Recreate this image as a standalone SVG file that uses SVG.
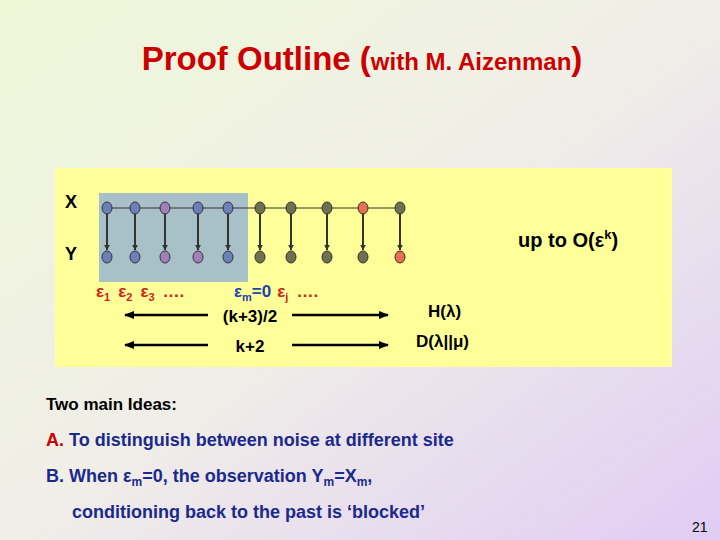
<svg xmlns="http://www.w3.org/2000/svg" width="720" height="540" viewBox="0 0 720 540">
<defs>
<linearGradient id="bg" x1="0" y1="0" x2="1" y2="1"><stop offset="0" stop-color="#eef8d8"/><stop offset="0.5" stop-color="#f0eee8"/><stop offset="1" stop-color="#e0ccf4"/></linearGradient>
<marker id="ah" viewBox="0 0 10 10" refX="9" refY="5" markerWidth="4" markerHeight="4" orient="auto-start-reverse"><path d="M0,1 L10,5 L0,9 z" fill="#000"/></marker>
<marker id="ah2" viewBox="0 0 10 10" refX="9" refY="5" markerWidth="3" markerHeight="3" orient="auto"><path d="M0,0 L10,5 L0,10 z" fill="#333"/></marker>
<style>
.t{font-family:"Liberation Sans",Arial,sans-serif;font-weight:bold}
.n{stroke:#333;stroke-width:1}
.b{fill:#6a80b8}.p{fill:#a080b8}.o{fill:#707050}.r{fill:#e87050}
.v{stroke:#333;stroke-width:2;marker-end:url(#ah2)}
.red{fill:#cc2222}
</style>
</defs>
<rect width="720" height="540" fill="url(#bg)"/>
<text class="t" x="362" y="70" text-anchor="middle" font-size="33" fill="#cc0000">Proof Outline (<tspan font-size="24">with M. Aizenman</tspan>)</text>
<rect x="55" y="168" width="617" height="199" fill="#ffff99"/>
<rect x="99" y="193" width="149" height="89" fill="#a8c0c8"/>
<text class="t" x="65" y="208" font-size="18">X</text>
<text class="t" x="65" y="260" font-size="18">Y</text>
<text class="t" x="518" y="247" font-size="20">up to O(ε<tspan dy="-8" font-size="13">k</tspan><tspan dy="8">)</tspan></text>
<g id="connectors">
<line x1="107" y1="208" x2="400" y2="208" stroke="#333" stroke-width="1"/>
<line class="v" x1="107" y1="212" x2="107" y2="250"/>
<line class="v" x1="135" y1="212" x2="135" y2="250"/>
<line class="v" x1="165" y1="212" x2="165" y2="250"/>
<line class="v" x1="198" y1="212" x2="198" y2="250" stroke-width="1"/>
<line class="v" x1="228" y1="212" x2="228" y2="250" stroke-width="1"/>
<line class="v" x1="260" y1="212" x2="260" y2="250"/>
<line class="v" x1="291" y1="212" x2="291" y2="250"/>
<line class="v" x1="327" y1="212" x2="327" y2="250" stroke-width="1"/>
<line class="v" x1="363" y1="212" x2="363" y2="250"/>
<line class="v" x1="400" y1="212" x2="400" y2="250" stroke-width="1"/>
<line x1="125" y1="315" x2="208" y2="315" stroke="#000" stroke-width="2.5" marker-start="url(#ah)"/>
<line x1="292" y1="315" x2="388" y2="315" stroke="#000" stroke-width="2.5" marker-end="url(#ah)"/>
<line x1="125" y1="345" x2="208" y2="345" stroke="#000" stroke-width="2.5" marker-start="url(#ah)"/>
<line x1="292" y1="345" x2="388" y2="345" stroke="#000" stroke-width="2.5" marker-end="url(#ah)"/>
</g>
<g id="xnodes">
<ellipse class="n b" cx="107" cy="208" rx="5" ry="6"/><ellipse class="n b" cx="135" cy="208" rx="5" ry="6"/><ellipse class="n p" cx="165" cy="208" rx="5" ry="6"/><ellipse class="n b" cx="198" cy="208" rx="5" ry="6"/><ellipse class="n b" cx="228" cy="208" rx="5" ry="6"/><ellipse class="n o" cx="260" cy="208" rx="5" ry="6"/><ellipse class="n o" cx="291" cy="208" rx="5" ry="6"/><ellipse class="n o" cx="327" cy="208" rx="5" ry="6"/><ellipse class="n r" cx="363" cy="208" rx="5" ry="6"/><ellipse class="n o" cx="400" cy="208" rx="5" ry="6"/>
</g>
<g id="ynodes">
<ellipse class="n b" cx="107" cy="257" rx="5" ry="6"/><ellipse class="n b" cx="135" cy="257" rx="5" ry="6"/><ellipse class="n p" cx="165" cy="257" rx="5" ry="6"/><ellipse class="n p" cx="198" cy="257" rx="5" ry="6"/><ellipse class="n b" cx="228" cy="257" rx="5" ry="6"/><ellipse class="n o" cx="260" cy="257" rx="5" ry="6"/><ellipse class="n o" cx="291" cy="257" rx="5" ry="6"/><ellipse class="n o" cx="327" cy="257" rx="5" ry="6"/><ellipse class="n o" cx="363" cy="257" rx="5" ry="6"/><ellipse class="n r" cx="400" cy="257" rx="5" ry="6"/>
</g>
<g id="labels">
<text class="t red" x="96" y="297" font-size="17">ε<tspan dy="4" font-size="11">1</tspan><tspan dy="-4" dx="8">ε</tspan><tspan dy="4" font-size="11">2</tspan><tspan dy="-4" dx="8">ε</tspan><tspan dy="4" font-size="11">3</tspan><tspan dy="-4" dx="8">….</tspan></text>
<text class="t" x="234" y="297" font-size="17"><tspan fill="#2244aa">ε</tspan><tspan fill="#2244aa" dy="4" font-size="11">m</tspan><tspan fill="#2244aa" dy="-4">=0</tspan><tspan class="red" dx="6">ε</tspan><tspan class="red" dy="4" font-size="11">j</tspan><tspan class="red" dy="-4" dx="8">….</tspan></text>
<text class="t" x="250" y="322" font-size="17" text-anchor="middle">(k+3)/2</text>
<text class="t" x="250" y="352" font-size="17" text-anchor="middle">k+2</text>
<text class="t" x="428" y="317" font-size="17">H(λ)</text>
<text class="t" x="416" y="347" font-size="17">D(λ||μ)</text>
</g>
<text class="t" x="46" y="410" font-size="17">Two  main Ideas:</text>
<text class="t" x="46" y="446" font-size="18" fill="#1a2a8c"><tspan fill="#cc0000">A.</tspan>  To distinguish between noise at different site</text>
<text class="t" x="46" y="482" font-size="18" fill="#1a2a8c">B. When ε<tspan dy="4" font-size="12">m</tspan><tspan dy="-4">=0, the observation Y</tspan><tspan dy="4" font-size="12">m</tspan><tspan dy="-4">=X</tspan><tspan dy="4" font-size="12">m</tspan><tspan dy="-4">,</tspan></text>
<text class="t" x="72" y="518" font-size="18" fill="#1a2a8c">conditioning back to the past is ‘blocked’</text>
<text x="692" y="532" font-size="14" font-family="Liberation Sans,Arial,sans-serif">21</text>
</svg>
